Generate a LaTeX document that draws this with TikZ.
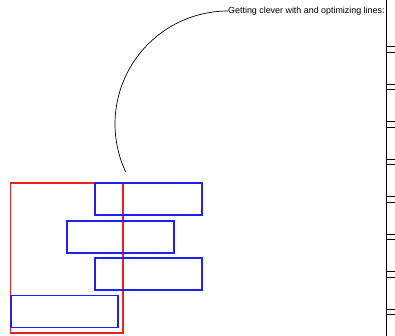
\documentclass[tikz,border=0pt]{standalone}
\usepackage{fontspec}
\setmainfont{Liberation Sans}
\usetikzlibrary{positioning}
\definecolor{blockBlue}{HTML}{2020F0}
\definecolor{frameRed}{HTML}{F02020}

\begin{document}
\begin{tikzpicture}[x=1pt, y=-1pt,
    block/.style={rectangle, draw=blockBlue, line width=1.2pt,
                  minimum width=107pt, minimum height=32pt, inner sep=0pt},
    outline/.style={rectangle, draw=frameRed, line width=1.2pt,
                  minimum width=112.5pt, minimum height=150pt, inner sep=0pt},
    rung/.style={line width=0.7pt},
  ]
    \useasboundingbox (0,0) rectangle (395,336);

    % frame and the blocks in it
    \node[outline] (box) at (66.75, 258) {};
    \node[block] (b1) at (148.5, 199) {};
    \node[block] (b2) at (120.5, 237) {};
    \node[block] (b3) at (148.5, 274) {};
    \node[block] (b4) at (64.5, 311.5) {};

    % title and its curved lead
    \node[anchor=west, inner sep=0pt, font=\fontsize{8.9}{10}\selectfont] (title) at (228, 11)
      {Getting clever with and optimizing lines:};
    \draw[line width=0.7pt] (title.west) arc[start angle=-90, end angle=-205, radius=113]
      coordinate (tail);

    % rail on the right
    \coordinate (railtop) at (386, 0);
    \coordinate (railbot) at (386, 336);
    \draw[line width=0.9pt] (railtop) -- (railbot);
    \foreach \y in {46.7, 84.2, 121.7, 159.2, 196.7, 234.2, 271.7, 309.2} {
      \draw[rung] (386, \y) -- (395, \y);
      \draw[rung] (386, \y+5.3) -- (395, \y+5.3);
    }
  \end{tikzpicture}
\end{document}
